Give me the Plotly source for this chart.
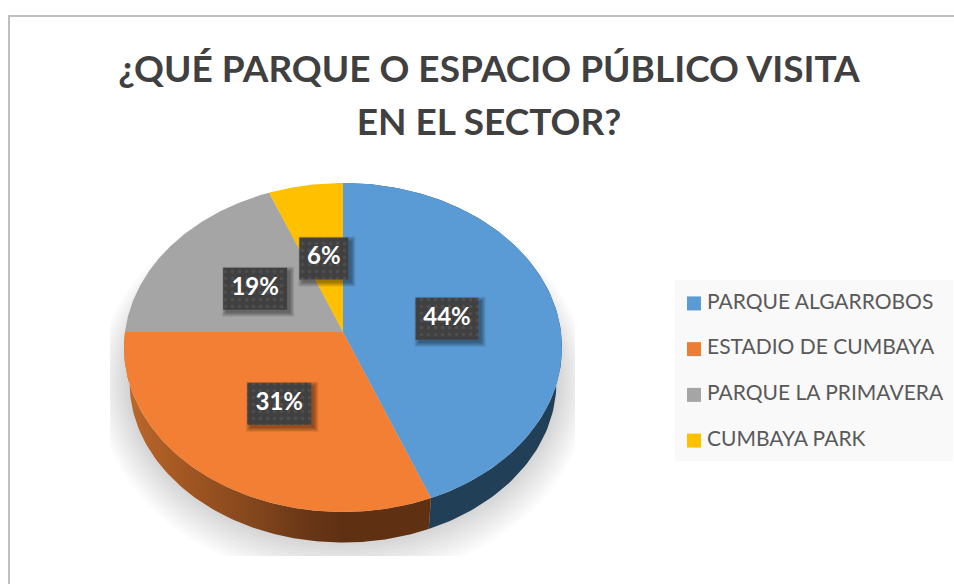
"""3D-looking pie chart: visited parks in the sector."""

import numpy as np
import plotly.graph_objects as go

CATEGORIES = ["PARQUE ALGARROBOS", "ESTADIO DE CUMBAYA", "PARQUE LA PRIMAVERA", "CUMBAYA PARK"]
VALUES = [44, 31, 19, 6]
COLORS = ["#5B9BD5", "#F27F33", "#A5A5A5", "#FFC000"]
LEGEND_COLORS = ["#5B9BD5", "#ED7D31", "#A5A5A5", "#FFC000"]
TITLE_LINES = ["¿QUÉ PARQUE O ESPACIO PÚBLICO VISITA", "EN EL SECTOR?"]
LABEL_RADII = [0.49, 0.50, 0.50, 0.49]
LABEL_WIDTHS = [63, 64, 64, 49]

W, H = 954, 584
TILT = 0.0942
TOP = dict(a=218, b=163, cy=0)
BOTTOM = dict(a=212.5, b=159, cy=-35)
WALL_BLUE = "#223F58"
WALL_ORANGE = [
    [0.0, "#BC682A"],
    [0.3, "#A05522"],
    [0.6, "#82461C"],
    [0.85, "#683517"],
    [1.0, "#5F3012"],
]


def project(theta, r=1.0, plane=TOP, tilt=TILT):
    """Perspective projection of a disc point; theta clockwise from 12 o'clock."""
    u, v = r * np.sin(theta), r * np.cos(theta)
    d = 1 + tilt * v
    return plane["a"] * u / d, plane["cy"] + plane["b"] * v / d


def px(x):
    return x / W


def py(y):
    return 1 - y / H


shares = np.array(VALUES) / sum(VALUES) * 2 * np.pi
ends = np.cumsum(shares)
starts = ends - shares

fig = go.Figure()

# soft shadow: stacked translucent egg shapes, clipped by the plot area
t = np.linspace(0, 2 * np.pi, 181)
for grow in np.linspace(16, -16, 12):
    sx, sy = project(t, plane=dict(a=222 + grow, b=168 + grow, cy=-4), tilt=0.25)
    fig.add_trace(
        go.Scatter(
            x=sx,
            y=sy,
            mode="lines",
            line=dict(width=0),
            fill="toself",
            fillcolor="rgba(0,0,0,0.0165)",
            hoverinfo="skip",
            showlegend=False,
        )
    )

# side walls: only the two front slices can be seen
for i in (0, 1):
    th = np.linspace(starts[i], ends[i], 120)
    x0, y0 = project(th)
    x1, y1 = project(th[::-1], plane=BOTTOM)
    style = dict(fillcolor=WALL_BLUE)
    if i == 1:
        style = dict(
            fillgradient=dict(type="horizontal", colorscale=WALL_ORANGE, start=-218, stop=0)
        )
    fig.add_trace(
        go.Scatter(
            x=np.r_[x0, x1],
            y=np.r_[y0, y1],
            mode="lines",
            line=dict(width=0),
            fill="toself",
            hoverinfo="skip",
            showlegend=False,
            **style,
        )
    )

# top surface
for i, name in enumerate(CATEGORIES):
    th = np.linspace(starts[i], ends[i], 120)
    x0, y0 = project(th)
    fig.add_trace(
        go.Scatter(
            x=np.r_[0, x0, 0],
            y=np.r_[0, y0, 0],
            mode="lines",
            line=dict(width=0),
            fill="toself",
            fillcolor=COLORS[i],
            name=name,
            showlegend=False,
        )
    )

# data labels: shadow, patterned box, text
mids = (starts + ends) / 2
for i, value in enumerate(VALUES):
    cx, cy = project(mids[i], LABEL_RADII[i])
    cy -= 1.5
    hw, hh = LABEL_WIDTHS[i] / 2, 21
    for grow in (4, 3, 2, 1, 0):
        fig.add_trace(
            go.Scatter(
                x=cx + 3 + np.array([-hw - grow, hw + grow, hw + grow, -hw - grow, -hw - grow]),
                y=cy - 3 + np.array([-hh - grow, -hh - grow, hh + grow, hh + grow, -hh - grow]),
                mode="lines",
                line=dict(width=0),
                fill="toself",
                fillcolor="rgba(0,0,0,0.09)",
                hoverinfo="skip",
                showlegend=False,
            )
        )
    fig.add_trace(
        go.Scatter(
            x=cx + np.array([-hw, hw, hw, -hw, -hw]),
            y=cy + np.array([-hh, -hh, hh, hh, -hh]),
            mode="lines",
            line=dict(width=0),
            fill="toself",
            fillcolor="#404040",
            fillpattern=dict(
                shape=".", bgcolor="#404040", fgcolor="#5C5C5C", size=7, solidity=0.2
            ),
            hoverinfo="skip",
            showlegend=False,
        )
    )
    fig.add_trace(
        go.Scatter(
            x=[cx],
            y=[cy],
            mode="text",
            text=[f"{value}%"],
            textfont=dict(family="Lato", size=24, color="white", weight="bold"),
            hoverinfo="skip",
            showlegend=False,
        )
    )

# legend column on its own axes
rows = list(range(len(CATEGORIES)))
fig.add_trace(
    go.Scatter(
        x=[0] * len(rows),
        y=rows,
        mode="markers",
        marker=dict(symbol="square", size=14, color=LEGEND_COLORS),
        cliponaxis=False,
        xaxis="x2",
        yaxis="y2",
        hoverinfo="skip",
        showlegend=False,
    )
)
fig.add_trace(
    go.Scatter(
        x=[13] * len(rows),
        y=rows,
        mode="text",
        text=CATEGORIES,
        textposition="middle right",
        textfont=dict(family="Lato", size=21, color="#595959"),
        cliponaxis=False,
        xaxis="x2",
        yaxis="y2",
        hoverinfo="skip",
        showlegend=False,
    )
)

# the outer font size sets the line spacing, the span the glyph size
title_text = "<br>".join(f'<span style="font-size:37px">{line}</span>' for line in TITLE_LINES)

fig.update_layout(
    width=W,
    height=H,
    margin=dict(l=0, r=0, t=0, b=0),
    paper_bgcolor="white",
    plot_bgcolor="rgba(0,0,0,0)",
    showlegend=False,
    title=dict(
        text=title_text,
        font=dict(family="Lato", size=41, color="#404040", weight="bold"),
        x=489 / W,
        xanchor="center",
        y=py(82),
        yanchor="middle",
    ),
    xaxis=dict(domain=[px(110), px(575)], range=[-233, 232], visible=False, fixedrange=True),
    yaxis=dict(domain=[py(556), py(170)], range=[-224, 162], visible=False, fixedrange=True),
    xaxis2=dict(domain=[px(680), px(950)], range=[-14, 256], visible=False, fixedrange=True),
    yaxis2=dict(
        domain=[py(463), py(281)],
        range=[3.49, -0.49],
        visible=False,
        fixedrange=True,
        anchor="x2",
    ),
    shapes=[
        # legend panel
        dict(
            type="rect", xref="paper", yref="paper",
            x0=px(675), x1=px(953), y0=py(461), y1=py(280),
            fillcolor="#F9F9F9", line_width=0, layer="below",
        ),
        # chart frame, running off the right and bottom of the crop
        dict(
            type="line", xref="paper", yref="paper",
            x0=px(9), x1=px(9), y0=py(16), y1=0,
            line=dict(color="#BFBFBF", width=2),
        ),
        dict(
            type="line", xref="paper", yref="paper",
            x0=px(8), x1=1, y0=py(16), y1=py(16),
            line=dict(color="#BFBFBF", width=2),
        ),
    ],
)

fig.write_html(
    "out.html",
    config=dict(displayModeBar=False),
    post_script="document.body.style.margin = '0';",
)
